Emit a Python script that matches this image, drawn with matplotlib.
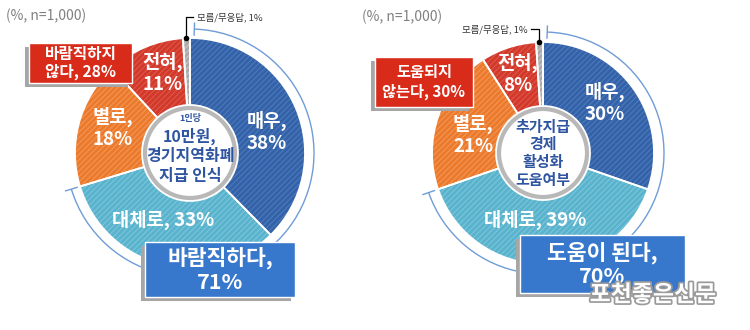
import numpy as np
import matplotlib.pyplot as plt
from matplotlib.patches import Wedge, Circle, Rectangle, Arc
from matplotlib import patheffects as pe

plt.rcParams['font.family'] = ['Noto Sans CJK KR', 'DejaVu Sans']
plt.rcParams['hatch.linewidth'] = 0.7

# data
cats = ['매우', '대체로', '별로', '전혀', '모름/무응답']
left_vals = [38, 33, 18, 11, 1]
right_vals = [30, 39, 21, 8, 1]
left_center = ['1인당', '10만원,', '경기지역화폐', '지급 인식']
right_center = ['추가지급', '경제', '활성화', '도움여부']
left_neg, left_pos = '바람직하지\n않다, 28%', '바람직하다,\n71%'
right_neg, right_pos = '도움되지\n않는다, 30%', '도움이 된다,\n70%'

colors = ['#3462a8', '#5ab3cd', '#ec7a2c', '#d2392b', '#a9a9a9']
stripes = ['#4f7cbd', '#7fc7dc', '#f3985a', '#de5a4c', '#cdcdcd']
H = 330

fig = plt.figure(figsize=(7.5, 3.3), dpi=100)
ax = fig.add_axes([0, 0, 1, 1])


def donut(vals, cx, cy, r, r_in, arc_r, label_pos, center_lines, center_sizes, center_y):
    c = (cx, H - cy)
    wedges, _ = ax.pie(vals, colors=colors, center=c, radius=r, startangle=90,
                       counterclock=False,
                       wedgeprops=dict(width=r - r_in, linewidth=0))
    for w, sc in zip(wedges, stripes):
        w.set_hatch('//////')
        w.set_edgecolor(sc)
        ax.add_patch(Wedge(c, r, w.theta1, w.theta2, width=r - r_in,
                           facecolor='none', edgecolor='white', lw=1.3, zorder=2))
    # labels in the slices
    for i, (p, cat, v) in enumerate(zip(label_pos, cats[:4], vals[:4])):
        txt = f'{cat}, {v}%' if i == 1 else f'{cat},\n{v}%'
        ax.text(p[0], H - p[1], txt, color='white', fontsize=13.5,
                fontweight='bold', ha='center', va='center',
                linespacing=1.15, zorder=5)
    # center circle
    ax.add_patch(Circle(c, r_in - 3, facecolor='white', edgecolor='#b8b8b8', lw=3, zorder=3))
    for t, fs, yy in zip(center_lines, center_sizes, center_y):
        ax.text(cx, H - yy, t, fontsize=fs, color='#2f55a0', fontweight='bold',
                ha='center', va='center', zorder=4)
    # bracket arc over the positive side
    t_end = wedges[1].theta1
    t_start = 88
    ax.add_patch(Arc(c, 2 * arc_r, 2 * arc_r, theta1=t_end, theta2=t_start,
                     color='#6f9cd8', lw=1, zorder=1))
    for t in (t_end, t_start):
        a = np.deg2rad(t)
        ax.plot([cx + (arc_r - 6) * np.cos(a), cx + (arc_r + 6) * np.cos(a)],
                [H - cy + (arc_r - 6) * np.sin(a), H - cy + (arc_r + 6) * np.sin(a)],
                color='#6f9cd8', lw=1, zorder=1)
    g = wedges[4]
    a = np.deg2rad((g.theta1 + g.theta2) / 2)
    return (cx + r * np.cos(a), H - cy + r * np.sin(a))


def box(x0, y0, x1, y1, fc, text, fs, ls=1.15):
    ax.add_patch(Rectangle((x0 - 4, H - y1 - 4), x1 - x0, y1 - y0,
                           facecolor='#a6a6a6', edgecolor='none', zorder=6))
    ax.add_patch(Rectangle((x0, H - y1), x1 - x0, y1 - y0,
                           facecolor=fc, edgecolor='white', lw=1, zorder=7))
    ax.text((x0 + x1) / 2, H - (y0 + y1) / 2, text, color='white', fontsize=fs,
            fontweight='bold', ha='center', va='center', linespacing=ls, zorder=8)


dl = donut(left_vals, 190, 153, 115, 48, 124,
           [(267, 132), (163, 220), (113, 128), (163, 73)],
           left_center, [6.5, 11.5, 11.5, 11.5], [118, 136, 156, 176])
dr = donut(right_vals, 543, 153, 111, 47, 121,
           [(605, 103), (535, 220), (473, 135), (518, 74)],
           right_center, [10.8, 10.8, 10.8, 10.8], [127, 144, 162, 180])

# leader for 모름/무응답
ax.plot([193, dl[0], dl[0]], [H - 17, H - 17, dl[1]], color='black', lw=0.9, zorder=9)
ax.plot(dl[0], dl[1], 'o', color='black', ms=3, zorder=9)
ax.text(197, H - 17, f'{cats[4]}, {left_vals[4]}%', fontsize=6.8, color='#333333',
        ha='left', va='center')
ax.plot([531, dr[0], dr[0]], [H - 29, H - 29, dr[1]], color='black', lw=0.9, zorder=9)
ax.plot(dr[0], dr[1], 'o', color='black', ms=3, zorder=9)
ax.text(528, H - 29, f'{cats[4]}, {right_vals[4]}%', fontsize=6.8, color='#333333',
        ha='right', va='center')

box(29, 43, 132, 83, '#d92b1a', left_neg, 11.3, 1.1)
box(145, 242, 295, 297, '#3878cc', left_pos, 15.5)
box(375, 57, 473, 107, '#d92b1a', right_neg, 11, 1.25)
box(520, 235, 685, 293, '#3878cc', right_pos, 15.5)

ax.text(6, H - 16, '(%, n=1,000)', fontsize=10, color='#808080', ha='left', va='center')
ax.text(362, H - 17, '(%, n=1,000)', fontsize=10, color='#808080', ha='left', va='center')

ax.text(653, H - 295, '포천좋은신문', fontsize=16.5, fontweight='bold', color='white',
        ha='center', va='center', zorder=10,
        path_effects=[pe.withStroke(linewidth=2.5, foreground='#9a9a9a')])

ax.set_xlim(0, 750)
ax.set_ylim(0, 330)
ax.set_aspect('equal')
ax.axis('off')
fig.savefig('out.png', dpi=100)
